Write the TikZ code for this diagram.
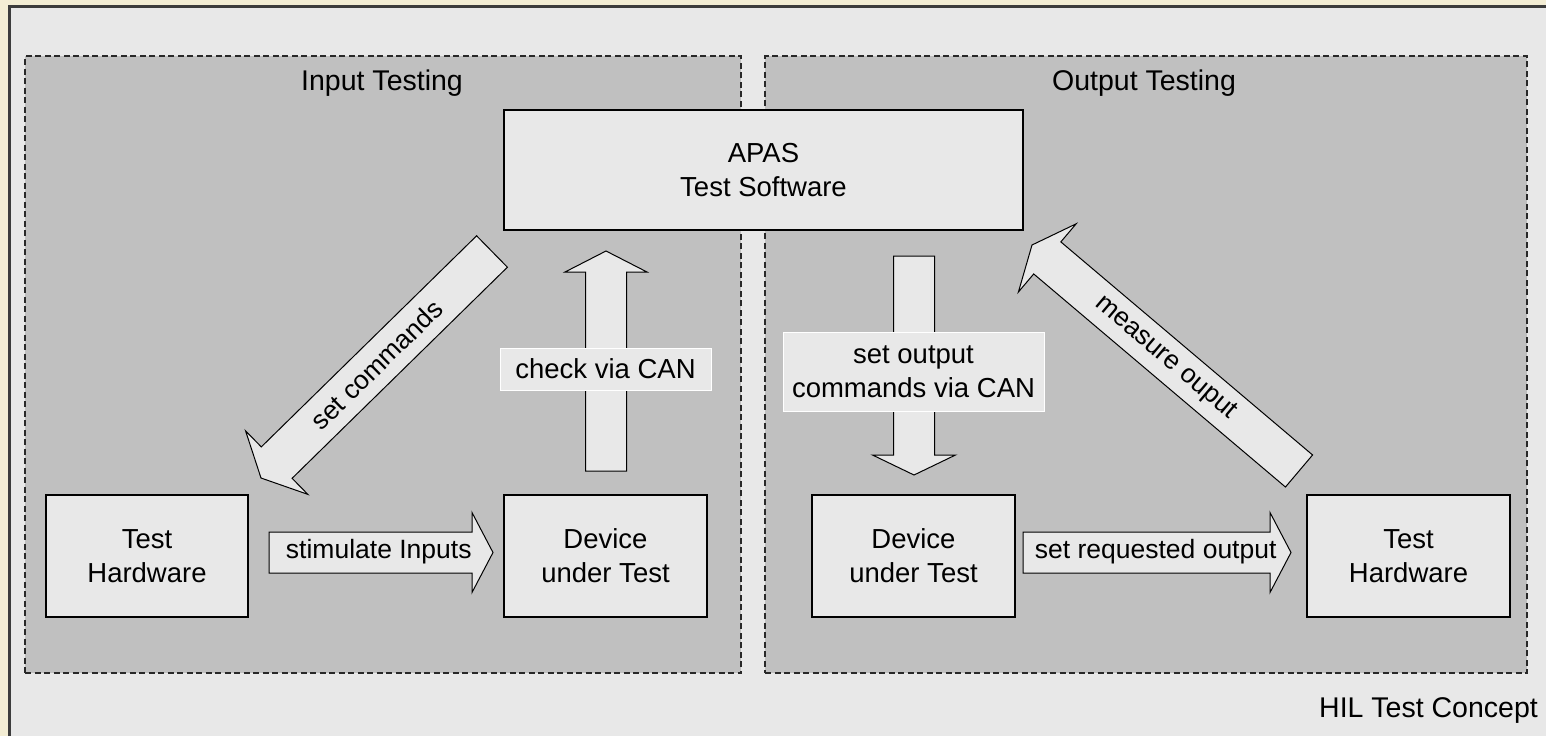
\documentclass[tikz,border=0pt]{standalone}
\usepackage{fontspec}
\setmainfont{Liberation Sans}
\usetikzlibrary{calc}
\definecolor{cream}{RGB}{243,237,212}
\definecolor{bgray}{RGB}{232,232,232}
\definecolor{ggray}{RGB}{192,192,192}
\definecolor{framec}{RGB}{60,60,60}
\definecolor{dashc}{RGB}{40,40,40}
\tikzset{
  group/.style={draw=dashc, fill=ggray, line width=1.6pt, dash pattern=on 6pt off 3.5pt, inner sep=0pt},
  txt/.style={font=\fontsize{27.5}{34}\selectfont, align=center, inner sep=0pt},
  title/.style={txt, font=\fontsize{28.5}{34}\selectfont},
  small/.style={txt, font=\fontsize{26.5}{34}\selectfont},
  box/.style={txt, draw=black, fill=bgray, line width=1.2pt},
  tagbox/.style={txt, fill=bgray, draw=white, line width=1pt},
  fatstyle/.style={draw=black, fill=bgray, line width=1pt, line join=miter},
}
% #1 tail, #2 tip, #3 half body width, #4 half head width, #5 head length
\newcommand{\fatarrow}[5]{%
  \coordinate (hb) at ($(#2)!#5!(#1)$);
  \draw[fatstyle] ($(#1)!#3!90:(#2)$) -- ($(hb)!#3!-90:(#1)$) -- ($(hb)!#4!-90:(#1)$)
     -- (#2) -- ($(hb)!#4!90:(#1)$) -- ($(hb)!#3!90:(#1)$) -- ($(#1)!#3!-90:(#2)$) -- cycle;
}
\begin{document}
\begin{tikzpicture}[x=1pt, y=-1pt]
\useasboundingbox (0,0) rectangle (1546,736);
\fill[cream] (0,0) rectangle (1546,736);
\fill[bgray] (9,6) rectangle (1546,736);
\draw[framec, line width=2.5pt] (9.3,736) -- (9.3,6.3) -- (1546,6.3);

% groups
\node[group, minimum width=716pt, minimum height=617pt] (gin) at (383,364.5) {};
\node[group, minimum width=762pt, minimum height=617pt] (gout) at (1146,364.5) {};
\node[title] (tin) at (382,83) {Input Testing};
\node[title] (tout) at (1144,83) {Output Testing};

% boxes
\node[box, minimum width=519pt, minimum height=120pt] (apas) at (763.5,170) {APAS\\Test Software};
\node[box, minimum width=202pt, minimum height=122pt] (th1) at (147,556) {Test\\Hardware};
\node[box, minimum width=203pt, minimum height=122pt] (dut1) at (605.5,556) {Device\\under Test};
\node[box, minimum width=203pt, minimum height=122pt] (dut2) at (913.5,556) {Device\\under Test};
\node[box, minimum width=203pt, minimum height=122pt] (th2) at (1408.5,556) {Test\\Hardware};

% arrow end points
\coordinate (sc-a) at (492,251.5);  \coordinate (sc-b) at (261,478);
\coordinate (cc-a) at (606,471);    \coordinate (cc-b) at (606,251);
\coordinate (so-a) at (914,256);    \coordinate (so-b) at (914,475);
\coordinate (mo-a) at (1299,471);   \coordinate (mo-b) at (1032,245);
\coordinate (si-a) at (269,552.5);  \coordinate (si-b) at (493,552.5);
\coordinate (sr-a) at (1023,552.5); \coordinate (sr-b) at (1291,552.5);

\fatarrow{sc-a}{sc-b}{22pt}{44.5pt}{22pt}
\fatarrow{cc-a}{cc-b}{20.5pt}{41pt}{21pt}
\fatarrow{so-a}{so-b}{20.5pt}{41.5pt}{20pt}
\fatarrow{mo-a}{mo-b}{21pt}{44.7pt}{20pt}
\fatarrow{si-a}{si-b}{20.5pt}{40pt}{21pt}
\fatarrow{sr-a}{sr-b}{20.5pt}{40pt}{21pt}

% labels
\path (sc-a) -- (sc-b) node[small, midway, sloped] (lsc) {set commands};
\path (mo-a) -- (mo-b) node[small, midway, sloped] (lmo) {measure ouput};
\path (si-a) -- (si-b) node[small, pos=0.49, yshift=1pt] (lsi) {stimulate Inputs};
\path (sr-a) -- (sr-b) node[small, pos=0.495, yshift=1pt] (lsr) {set requested output};
\node[tagbox, minimum width=211pt, minimum height=42pt] (lcc) at (605.5,369) {check via CAN};
\node[tagbox, minimum width=261pt, minimum height=79pt] (lso) at (913.5,371.5) {set output\\commands via CAN};

\node[title, anchor=east] (hil) at (1538,710) {HIL Test Concept};
\end{tikzpicture}
\end{document}
